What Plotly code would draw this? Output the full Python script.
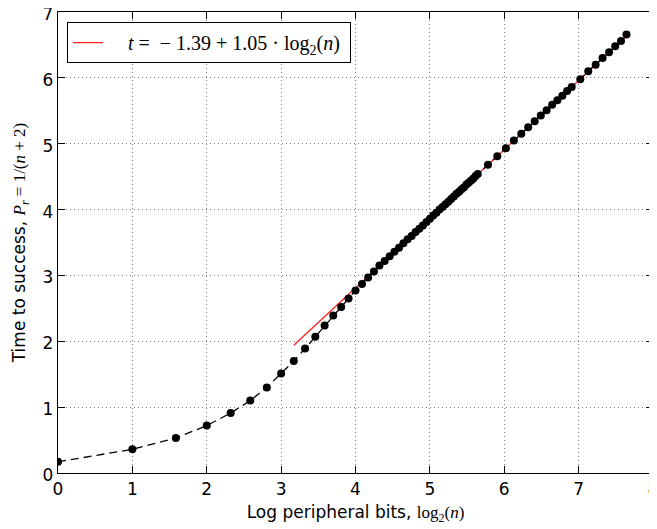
import numpy as np
import plotly.graph_objects as go

# peripheral count n and measured time to success t
n_values = list(range(1, 51)) + list(range(55, 121, 5)) + list(range(130, 201, 10))
t_values = [
    0.17, 0.36, 0.53, 0.72, 0.91, 1.10, 1.30, 1.51, 1.70, 1.89,
    2.07, 2.24, 2.39, 2.52, 2.65, 2.77, 2.87, 2.97, 3.06, 3.15,
    3.22, 3.29, 3.36, 3.42, 3.49, 3.55, 3.60, 3.66, 3.71, 3.76,
    3.81, 3.86, 3.91, 3.95, 4.00, 4.04, 4.08, 4.12, 4.16, 4.20,
    4.24, 4.27, 4.31, 4.34, 4.38, 4.41, 4.44, 4.47, 4.51, 4.54,
    4.68, 4.81, 4.93, 5.05, 5.15, 5.25, 5.34, 5.43, 5.51, 5.59,
    5.66, 5.73, 5.80, 5.86,
    5.98, 6.10, 6.20, 6.30, 6.39, 6.48, 6.56, 6.66,
]

# linear fit in log2(n), applied for n >= 9
fit_intercept = -1.39
fit_slope = 1.05
fit_n_range = [9, 200]

x_ticks = [0, 1, 2, 3, 4, 5, 6, 7, 8]
y_ticks = [0, 1, 2, 3, 4, 5, 6, 7]

SERIF = "Liberation Serif"
SANS = "DejaVu Sans"

x_data = np.log2(np.array(n_values, dtype=float))
fit_x = np.log2(np.array(fit_n_range, dtype=float))
fit_y = fit_intercept + fit_slope * fit_x

fig = go.Figure()
fig.add_trace(go.Scatter(
    x=fit_x, y=fit_y, mode="lines",
    line=dict(color="#ff2020", width=1.3),
    name=(f'    <i>t</i> =  \u2212 {abs(fit_intercept):.2f} + '
          f'{fit_slope:.2f} \u00b7 log<sub>2</sub>(<i>n</i>) '),
    showlegend=True,
))
fig.add_trace(go.Scatter(
    x=x_data, y=t_values, mode="lines+markers",
    line=dict(color="black", width=1.3, dash="8px,5px"),
    marker=dict(color="black", size=8),
    showlegend=False,
))

axis_common = dict(
    showline=True, linecolor="black", linewidth=1.3, mirror="ticks",
    ticks="inside", ticklen=7, tickwidth=1, tickcolor="black",
    showgrid=True, gridcolor="#808080", gridwidth=1, griddash="1px,3px",
    zeroline=False, automargin=False, ticklabeloverflow="allow",
    tickfont=dict(family=SANS, size=17, color="black"),
)

fig.update_xaxes(
    range=[0, 8], tickvals=x_ticks, ticktext=[str(v) for v in x_ticks],
    title=dict(
        text=f'Log peripheral bits, <span style="font-family:{SERIF}">log<sub>2</sub>(<i>n</i>)</span>',
        font=dict(family=SANS, size=17, color="black"), standoff=8),
    **axis_common,
)
fig.update_yaxes(
    range=[0, 7], tickvals=y_ticks, ticktext=[str(v) for v in y_ticks],
    ticklabelshift=2,
    title=dict(
        text=f'Time to success, <span style="font-family:{SERIF}"><i>P<sub>r</sub></i> = 1/(<i>n</i> + 2)</span>',
        font=dict(family=SANS, size=17, color="black"), standoff=12),
    **axis_common,
)

# the page body adds an 8px offset, so the figure is sized to fit the window
fig.update_layout(
    width=649, height=521,
    margin=dict(l=50, r=4, t=4, b=56),
    paper_bgcolor="white", plot_bgcolor="white",
    legend=dict(
        x=0.015, y=0.978, xanchor="left", yanchor="top",
        bgcolor="white", bordercolor="black", borderwidth=1,
        font=dict(family=SERIF, size=20, color="black"),
    ),
)

fig.write_html("out.html")
